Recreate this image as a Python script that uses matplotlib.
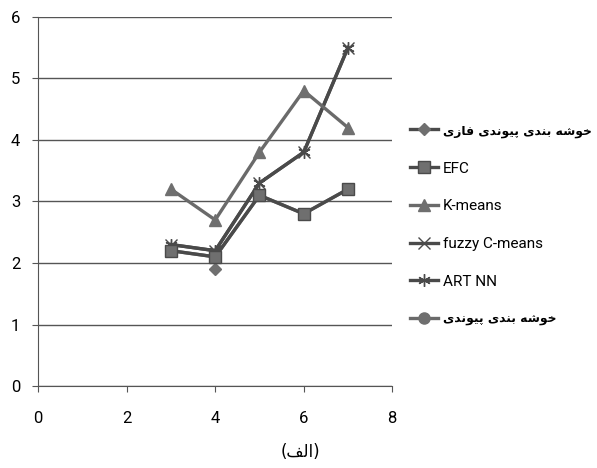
import numpy as np
import matplotlib.pyplot as plt

# data
x = [3, 4, 5, 6, 7]
phase_x = [4]
phase_y = [1.9]
efc = [2.2, 2.1, 3.1, 2.8, 3.2]
kmeans = [3.2, 2.7, 3.8, 4.8, 4.2]
fuzzy = [2.3, 2.2, 3.3, 3.8, 5.5]
artnn = [2.3, 2.2, 3.3, 3.8, 5.5]
linkage = [2.2, 2.1, 3.1, 2.8, 3.2]

# arabic/persian contextual forms: isolated, final, initial, medial
FORMS = {
    'خ': ('\uFEA5', '\uFEA6', '\uFEA7', '\uFEA8'),
    'ش': ('\uFEB5', '\uFEB6', '\uFEB7', '\uFEB8'),
    'ه': ('\uFEE9', '\uFEEA', '\uFEEB', '\uFEEC'),
    'ب': ('\uFE8F', '\uFE90', '\uFE91', '\uFE92'),
    'ن': ('\uFEE5', '\uFEE6', '\uFEE7', '\uFEE8'),
    'ی': ('\uFBFC', '\uFBFD', '\uFBFE', '\uFBFF'),
    'پ': ('\uFB56', '\uFB57', '\uFB58', '\uFB59'),
    'ف': ('\uFED1', '\uFED2', '\uFED3', '\uFED4'),
    'ل': ('\uFEDD', '\uFEDE', '\uFEDF', '\uFEE0'),
    'و': ('\uFEED', '\uFEEE', None, None),
    'د': ('\uFEA9', '\uFEAA', None, None),
    'ا': ('\uFE8D', '\uFE8E', None, None),
    'ز': ('\uFEAF', '\uFEB0', None, None),
}


def shape(text):
    out = []
    for i, ch in enumerate(text):
        if ch not in FORMS:
            out.append(ch)
            continue
        prev = text[i - 1] if i > 0 else ''
        nxt = text[i + 1] if i < len(text) - 1 else ''
        joins_prev = prev in FORMS and FORMS[prev][2] is not None
        joins_next = nxt in FORMS and FORMS[ch][2] is not None
        f = FORMS[ch]
        if joins_prev and joins_next:
            out.append(f[3])
        elif joins_prev:
            out.append(f[1])
        elif joins_next:
            out.append(f[2])
        else:
            out.append(f[0])
    return ''.join(out)[::-1]


label_phase = shape('خوشه بندی پیوندی فازی')
label_link = shape('خوشه بندی پیوندی')
xlabel = '(' + shape('الف') + ')'

plt.rcParams['font.family'] = ['Roboto', 'DejaVu Sans']

fig = plt.figure(figsize=(5.97, 4.68), dpi=100)
ax = fig.add_axes([0.064, 0.175, 0.593, 0.789])

dark = '#4a4a4a'
mid = '#6a6a6a'
mk = '#6f6f6f'

ax.plot(x, linkage, color=mid, lw=2.4, marker='o', ms=8, mfc=mk, mec=mk,
        label=label_link, zorder=3)
ax.plot(x, artnn, color=dark, lw=2.4, marker=(6, 2, 0), ms=9, mec=dark,
        label='ART NN', zorder=3)
ax.plot(x, fuzzy, color=dark, lw=2.4, marker='x', ms=9, mew=1.0, mec=dark,
        label='fuzzy C-means', zorder=3)
ax.plot(x, kmeans, color=mid, lw=2.4, marker='^', ms=9, mfc=mk, mec=mk,
        label='K-means', zorder=3)
ax.plot(x, efc, color=dark, lw=2.4, marker='s', ms=9, mfc=mk, mec=dark,
        label='EFC', zorder=4)
ax.plot(phase_x, phase_y, color=dark, lw=2.4, marker='D', ms=6, mfc=mk,
        mec=mk, label=label_phase, zorder=2)

ax.set_xlim(0, 8)
ax.set_ylim(0, 6)
ax.set_xticks([0, 2, 4, 6, 8])
ax.set_yticks(range(7))
ax.yaxis.grid(True, color='#555555', lw=1)
ax.set_axisbelow(True)
for s in ['top', 'right']:
    ax.spines[s].set_visible(False)
for s in ['left', 'bottom']:
    ax.spines[s].set_color('#555555')
ax.tick_params(labelsize=12, length=4, color='#555555')
ax.tick_params(axis='x', pad=14)
ax.tick_params(axis='y', pad=9)
fig.text(0.503, 0.034, xlabel, fontsize=12, family='DejaVu Sans',
         ha='center', va='center')

handles, labels = ax.get_legend_handles_labels()
order = [5, 4, 3, 2, 1, 0]
leg = ax.legend([handles[i] for i in order], [labels[i] for i in order],
                loc='center left', bbox_to_anchor=(1.05, 0.436), frameon=False,
                fontsize=11, labelspacing=1.55, handlelength=1.85,
                handletextpad=0.3, borderpad=0, borderaxespad=0)
for t in leg.get_texts():
    if t.get_text() in (label_phase, label_link):
        t.set_family('DejaVu Sans')
        t.set_fontweight('bold')
        t.set_fontsize(8.9)

fig.savefig('out.png')
